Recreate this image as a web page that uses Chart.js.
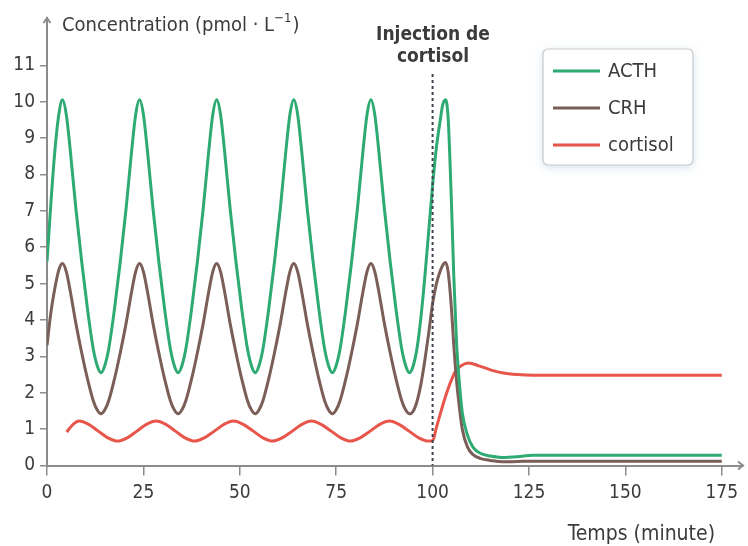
<!DOCTYPE html>
<html>
<head>
<meta charset="utf-8">
<script src="https://cdn.jsdelivr.net/npm/chart.js@4"></script>
<style>
    html, body { margin: 0; padding: 0; background: #fff; }
    #grafico { display: block; }
</style>
</head>
<body>
<canvas id="grafico" width="748" height="546"></canvas>
<script>
// temps (minutes) pour ACTH et CRH
const temps = [0, 1, 2, 3, 4,
    5, 6, 7.5, 9, 10.5, 12, 13, 14,
    15, 16, 17.5, 19, 20.5, 22, 23, 24,
    25, 26, 27.5, 29, 30.5, 32, 33, 34,
    35, 36, 37.5, 39, 40.5, 42, 43, 44,
    45, 46, 47.5, 49, 50.5, 52, 53, 54,
    55, 56, 57.5, 59, 60.5, 62, 63, 64,
    65, 66, 67.5, 69, 70.5, 72, 73, 74,
    75, 76, 77.5, 79, 80.5, 82, 83, 84,
    85, 86, 87.5, 89, 90.5, 92, 93, 94,
    95, 96, 97, 98, 99, 100, 101, 102, 102.6, 103.3, 104, 104.9, 105.5,
    106.2, 107, 107.7, 109, 110.5, 112.5, 115, 118, 122, 126, 140, 160, 175];

const acth = [5.6, 7.2, 8.6, 9.6, 10.05,
    9.65, 8.7, 7.05, 5.6, 4.3, 3.2, 2.75, 2.55,
    2.75, 3.2, 4.3, 5.6, 7.05, 8.7, 9.65, 10.05,
    9.65, 8.7, 7.05, 5.6, 4.3, 3.2, 2.75, 2.55,
    2.75, 3.2, 4.3, 5.6, 7.05, 8.7, 9.65, 10.05,
    9.65, 8.7, 7.05, 5.6, 4.3, 3.2, 2.75, 2.55,
    2.75, 3.2, 4.3, 5.6, 7.05, 8.7, 9.65, 10.05,
    9.65, 8.7, 7.05, 5.6, 4.3, 3.2, 2.75, 2.55,
    2.75, 3.2, 4.3, 5.6, 7.05, 8.7, 9.65, 10.05,
    9.65, 8.7, 7.05, 5.6, 4.3, 3.2, 2.75, 2.55,
    2.75, 3.25, 4.1, 5.2, 6.45, 7.7, 8.75, 9.5, 9.9, 10.05, 9.6, 7.2, 5.2,
    3.4, 2.2, 1.45, 0.85, 0.5, 0.33, 0.26, 0.22, 0.24, 0.28, 0.28, 0.28, 0.28];

const crh = [3.3, 4.2, 4.85, 5.35, 5.55,
    5.33, 4.81, 3.9, 3.1, 2.38, 1.78, 1.53, 1.42,
    1.53, 1.78, 2.38, 3.1, 3.9, 4.81, 5.33, 5.55,
    5.33, 4.81, 3.9, 3.1, 2.38, 1.78, 1.53, 1.42,
    1.53, 1.78, 2.38, 3.1, 3.9, 4.81, 5.33, 5.55,
    5.33, 4.81, 3.9, 3.1, 2.38, 1.78, 1.53, 1.42,
    1.53, 1.78, 2.38, 3.1, 3.9, 4.81, 5.33, 5.55,
    5.33, 4.81, 3.9, 3.1, 2.38, 1.78, 1.53, 1.42,
    1.53, 1.78, 2.38, 3.1, 3.9, 4.81, 5.33, 5.55,
    5.33, 4.81, 3.9, 3.1, 2.38, 1.78, 1.53, 1.42,
    1.5, 1.78, 2.25, 2.9, 3.65, 4.45, 5.0, 5.35, 5.5, 5.58, 5.35, 4.3, 3.3,
    2.35, 1.55, 1.0, 0.52, 0.3, 0.19, 0.14, 0.1, 0.11, 0.12, 0.12, 0.12, 0.12];

const tempsCortisol = [5.1, 6.5, 8.3, 10.8, 13.3, 15.8, 18.3,
    20.8, 23.3, 25.8, 28.3, 30.8, 33.3, 35.8, 38.3,
    40.8, 43.4, 45.9, 48.4, 50.9, 53.5, 56, 58.5,
    61, 63.6, 66.1, 68.6, 71.1, 73.7, 76.2, 78.7,
    81.2, 83.8, 86.3, 88.8, 91.3, 93.9, 96.4, 98.9,
    100, 101, 102, 103, 104, 105, 106, 107.5, 109.3, 112, 115, 118, 122, 126, 140, 160, 175];

const cortisol = [0.92, 1.1, 1.22, 1.13, 0.945, 0.76, 0.67,
    0.76, 0.945, 1.13, 1.22, 1.13, 0.945, 0.76, 0.67,
    0.76, 0.945, 1.13, 1.22, 1.13, 0.945, 0.76, 0.67,
    0.76, 0.945, 1.13, 1.22, 1.13, 0.945, 0.76, 0.67,
    0.76, 0.945, 1.13, 1.22, 1.13, 0.945, 0.76, 0.67,
    0.68, 1.05, 1.42, 1.78, 2.1, 2.38, 2.6, 2.75, 2.82, 2.74, 2.63, 2.55, 2.5, 2.48, 2.48, 2.48, 2.48];

const xTicks = [0, 25, 50, 75, 100, 125, 150, 175];
const yTicks = [0, 1, 2, 3, 4, 5, 6, 7, 8, 9, 10, 11];
const injection = 100;

const fonte = '"Liberation Sans Narrow", "DejaVu Sans Condensed", "Roboto", sans-serif';
const corTexto = '#3b3b3b';
const corEixo = '#8c8c8c';

function pontos(xs, ys) {
    return xs.map((t, i) => ({ x: t, y: ys[i] }));
}

// dessin des flèches, titres, ligne d'injection et légende
const decorPlugin = {
    id: 'decor',
    afterDatasetsDraw(chart) {
        const { ctx, chartArea, scales: { x } } = chart;
        const xi = x.getPixelForValue(injection);

        ctx.save();
        ctx.strokeStyle = '#3d4450';
        ctx.lineWidth = 2;
        ctx.setLineDash([3, 3]);
        ctx.beginPath();
        ctx.moveTo(xi, 74);
        ctx.lineTo(xi, chartArea.bottom);
        ctx.stroke();
        ctx.restore();
    },
    afterDraw(chart) {
        const { ctx, chartArea } = chart;
        const l = chartArea.left, b = chartArea.bottom;

        ctx.save();
        // flèches des axes
        ctx.strokeStyle = corEixo;
        ctx.lineWidth = 2;
        ctx.beginPath();
        ctx.moveTo(l - 3.5, chartArea.top + 5);
        ctx.lineTo(l, chartArea.top);
        ctx.lineTo(l + 3.5, chartArea.top + 5);
        ctx.moveTo(chartArea.right - 5, b - 4);
        ctx.lineTo(chartArea.right, b);
        ctx.lineTo(chartArea.right - 5, b + 4);
        ctx.stroke();

        // titre axe y
        ctx.fillStyle = corTexto;
        ctx.textBaseline = 'alphabetic';
        ctx.textAlign = 'left';
        ctx.font = '20px ' + fonte;
        let tx = 62;
        const base = 31;
        const part1 = 'Concentration (pmol \u00B7 L';
        ctx.fillText(part1, tx, base);
        tx += ctx.measureText(part1).width;
        ctx.font = '13px ' + fonte;
        ctx.fillText('\u22121', tx, base - 9);
        tx += ctx.measureText('\u22121').width + 1;
        ctx.font = '20px ' + fonte;
        ctx.fillText(')', tx, base);

        // titre axe x
        ctx.textAlign = 'right';
        ctx.font = '21px ' + fonte;
        ctx.fillText('Temps (minute)', 715, 540);

        // injection de cortisol
        ctx.textAlign = 'center';
        ctx.font = 'bold 19px ' + fonte;
        ctx.fillText('Injection de', 433, 40);
        ctx.fillText('cortisol', 433, 62);

        // légende
        const bx = 543, by = 49, bw = 150, bh = 116;
        ctx.shadowColor = 'rgba(120, 170, 200, 0.35)';
        ctx.shadowBlur = 8;
        ctx.shadowOffsetY = 2;
        ctx.fillStyle = '#ffffff';
        ctx.beginPath();
        ctx.roundRect(bx, by, bw, bh, 5);
        ctx.fill();
        ctx.shadowColor = 'transparent';
        ctx.strokeStyle = '#c9c9c9';
        ctx.lineWidth = 1.2;
        ctx.stroke();

        ctx.textAlign = 'left';
        ctx.textBaseline = 'middle';
        ctx.font = '20px ' + fonte;
        chart.data.datasets.forEach((ds, i) => {
            const ly = 71 + i * 37;
            ctx.strokeStyle = ds.borderColor;
            ctx.lineWidth = 3;
            ctx.beginPath();
            ctx.moveTo(553, ly);
            ctx.lineTo(600, ly);
            ctx.stroke();
            ctx.fillStyle = corTexto;
            ctx.fillText(ds.label, 608, ly + 1);
        });
        ctx.restore();
    }
};

const ctxGrafico = document.getElementById('grafico');

new Chart(ctxGrafico, {
    type: 'line',
    data: {
        datasets: [
            {
                label: 'ACTH',
                data: pontos(temps, acth),
                borderColor: '#2eaa73',
                borderWidth: 3,
                pointRadius: 0,
                cubicInterpolationMode: 'monotone',
                fill: false
            },
            {
                label: 'CRH',
                data: pontos(temps, crh),
                borderColor: '#7a5e57',
                borderWidth: 3,
                pointRadius: 0,
                cubicInterpolationMode: 'monotone',
                fill: false
            },
            {
                label: 'cortisol',
                data: pontos(tempsCortisol, cortisol),
                borderColor: '#e8554b',
                borderWidth: 3,
                pointRadius: 0,
                cubicInterpolationMode: 'monotone',
                fill: false
            }
        ]
    },
    options: {
        responsive: false,
        animation: false,
        layout: {
            padding: { left: 0, right: 5, top: 18, bottom: 40.5 }
        },
        plugins: {
            legend: { display: false },
            tooltip: { enabled: false }
        },
        scales: {
            x: {
                type: 'linear',
                min: 0,
                max: 180.5,
                afterFit: s => { s.height = 40; },
                afterBuildTicks: s => { s.ticks = xTicks.map(v => ({ value: v })); },
                border: { display: true, color: corEixo, width: 2 },
                grid: { drawOnChartArea: false, drawTicks: true, tickLength: 10, color: corEixo, lineWidth: 1.5 },
                ticks: {
                    padding: 6,
                    color: corTexto,
                    font: { family: fonte, size: 19 },
                    maxRotation: 0
                }
            },
            y: {
                type: 'linear',
                min: 0,
                max: 12.3,
                afterFit: s => { s.width = 47; },
                afterBuildTicks: s => { s.ticks = yTicks.map(v => ({ value: v })); },
                border: { display: true, color: corEixo, width: 2 },
                grid: { drawOnChartArea: false, drawTicks: true, tickLength: 7, color: corEixo, lineWidth: 1.5 },
                ticks: {
                    padding: 5,
                    color: corTexto,
                    font: { family: fonte, size: 19 }
                }
            }
        }
    },
    plugins: [decorPlugin]
});
</script>
</body>
</html>
